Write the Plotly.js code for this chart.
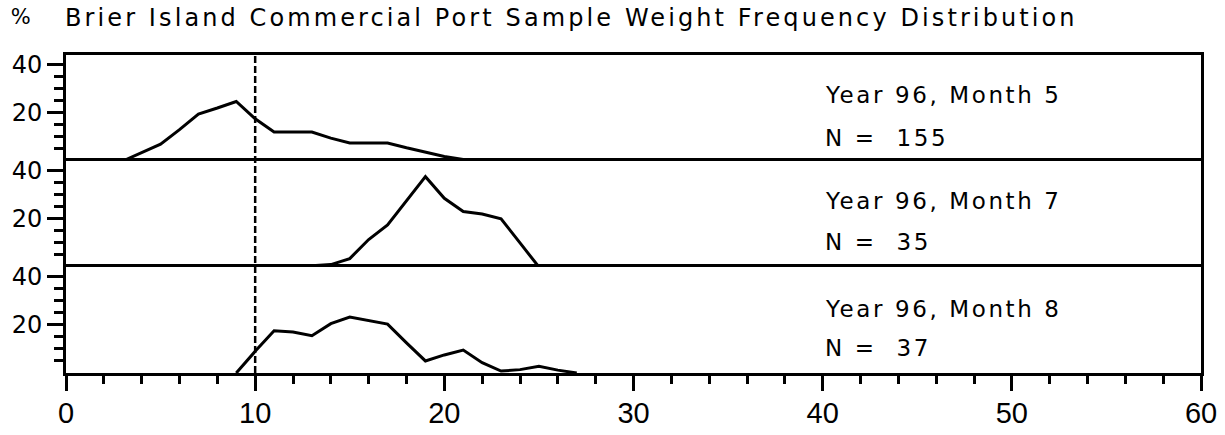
<!DOCTYPE html>
<html>
<head>
<meta charset="utf-8">
<script src="https://cdn.plot.ly/plotly-3.0.1.min.js"></script>
<style>
  html, body { margin: 0; padding: 0; background: #fff; }
  #chart { width: 1225px; height: 435px; }
  /* wide, evenly spaced lettering for the heading and panel labels */
  #chart .gtitle { letter-spacing: 3.1px; }
  #chart .annotation-text { letter-spacing: 2.6px; }
</style>
</head>
<body>
<div id="chart"></div>
<script>
// Weight classes (x) and percentage frequency (y) for each sample
const weightsMay = [3, 4, 5, 6, 7, 8, 9, 10, 11, 12, 13, 14, 15, 16, 17, 18, 19, 20, 21, 22, 23, 24, 25, 26];
const pctMay = [0, 3.5, 7, 13, 19.5, 22, 24.7, 17.5, 12, 12, 12, 9.5, 7.5, 7.5, 7.5, 5.5, 3.8, 1.9, 0.65, 0, 0.65, 0.65, 0.65, 0];

const weightsJul = [12, 13, 14, 15, 16, 17, 18, 19, 20, 21, 22, 23, 24, 25];
const pctJul = [0, 0.5, 1, 3.5, 11.4, 17.5, 27.5, 37.5, 28.5, 23, 22, 20, 10, 0];

const weightsAug = [9, 10, 11, 12, 13, 14, 15, 16, 17, 18, 19, 20, 21, 22, 23, 24, 25, 26, 27];
const pctAug = [0, 9, 17.5, 17, 15.5, 20.5, 23.2, 21.8, 20.3, 12.5, 5, 7.5, 9.5, 4.3, 0.8, 1.4, 2.8, 1.2, 0];

const sampleLabels = ['Year 96, Month 5', 'Year 96, Month 7', 'Year 96, Month 8'];
const sampleCounts = [155, 35, 37];

const yTickVals = [20, 40];
const yMinorVals = [5, 10, 15, 25, 30, 35];
const referenceWeight = 10;

const chartTitle = 'Brier Island Commercial Port Sample Weight Frequency Distribution';

const labelFont = { family: 'DejaVu Sans', size: 23, color: '#000' };

function panelTrace(xs, ys, xa, ya) {
  return {
    x: xs, y: ys, xaxis: xa, yaxis: ya,
    type: 'scatter', mode: 'lines',
    line: { color: '#000', width: 3 },
    hoverinfo: 'skip', showlegend: false
  };
}

const traces = [
  panelTrace(weightsMay, pctMay, 'x3', 'y3'),
  panelTrace(weightsJul, pctJul, 'x2', 'y2'),
  panelTrace(weightsAug, pctAug, 'x', 'y')
];

function yAxis(domain, anchor) {
  return {
    domain: domain, anchor: anchor, range: [0, 44],
    tickmode: 'array', tickvals: yTickVals,
    ticks: 'outside', ticklen: 16, tickwidth: 3, tickcolor: '#000',
    minor: { tickmode: 'array', tickvals: yMinorVals, ticks: 'outside', ticklen: 9, tickwidth: 3, tickcolor: '#000' },
    showgrid: false, zeroline: false,
    showline: true, mirror: true, linewidth: 3, linecolor: '#000',
    tickfont: { family: 'DejaVu Sans', size: 24, color: '#000' },
    fixedrange: true
  };
}

// Upper panels: only a top edge line, so shared edges are drawn once
function upperXAxis(anchor) {
  return {
    anchor: anchor, matches: 'x', range: [0, 60], side: 'top',
    showticklabels: false, ticks: '',
    showgrid: false, zeroline: false,
    showline: true, mirror: false, linewidth: 3, linecolor: '#000',
    fixedrange: true
  };
}

const panelRefs = [['x3', 'y3'], ['x2', 'y2'], ['x', 'y']];
const labelHeights = [27.3, 27.3, 26.5];
const countHeights = [9.6, 10.2, 10.2];
const annotations = [];
panelRefs.forEach(function (ref, i) {
  annotations.push({
    xref: ref[0], yref: ref[1], x: 40, y: labelHeights[i], xanchor: 'left', yanchor: 'middle',
    align: 'left', text: sampleLabels[i], showarrow: false, font: labelFont
  });
  annotations.push({
    xref: ref[0], yref: ref[1], x: 40, y: countHeights[i], xanchor: 'left', yanchor: 'middle',
    align: 'left', text: 'N =  ' + sampleCounts[i], showarrow: false, font: labelFont
  });
});
annotations.push({
  xref: 'paper', yref: 'paper', x: -0.039, y: 1.12, xanchor: 'center', yanchor: 'middle',
  text: '%', showarrow: false, font: { family: 'DejaVu Sans', size: 21, color: '#000' }
});

const layout = {
  width: 1225, height: 435,
  margin: { l: 66, r: 24, t: 55, b: 62 },
  paper_bgcolor: '#fff', plot_bgcolor: '#fff',
  title: {
    text: chartTitle,
    font: { family: 'DejaVu Sans', size: 24, color: '#000' },
    xref: 'container', yref: 'container',
    x: 65 / 1225, xanchor: 'left',
    y: 1 - 18 / 435, yanchor: 'middle'
  },
  xaxis: {
    anchor: 'y', range: [0, 60],
    tickmode: 'linear', tick0: 0, dtick: 10,
    ticks: 'outside', ticklen: 15, tickwidth: 3, tickcolor: '#000',
    minor: { dtick: 2, ticks: 'outside', ticklen: 8, tickwidth: 3, tickcolor: '#000' },
    showgrid: false, zeroline: false,
    showline: true, mirror: true, linewidth: 3, linecolor: '#000',
    tickfont: { family: 'Liberation Sans', size: 29, color: '#000' },
    ticklabelstandoff: -3,
    fixedrange: true
  },
  xaxis2: upperXAxis('y2'),
  xaxis3: upperXAxis('y3'),
  yaxis: yAxis([0, 1 / 3], 'x'),
  yaxis2: yAxis([1 / 3, 2 / 3], 'x2'),
  yaxis3: yAxis([2 / 3, 1], 'x3'),
  shapes: [{
    type: 'line', xref: 'x', yref: 'paper',
    x0: referenceWeight, x1: referenceWeight, y0: 0, y1: 1,
    line: { color: '#000', width: 2.5, dash: '7px,3px' }
  }],
  annotations: annotations
};

Plotly.newPlot('chart', traces, layout, { staticPlot: true, displayModeBar: false });
</script>
</body>
</html>
